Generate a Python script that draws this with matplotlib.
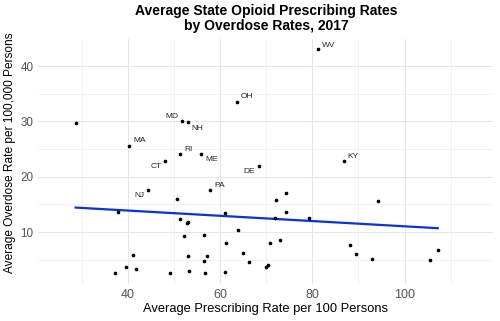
import numpy as np
import matplotlib
matplotlib.use("Agg")
import matplotlib.pyplot as plt
from matplotlib.ticker import MultipleLocator

plt.rcParams['font.family'] = ['Liberation Sans', 'DejaVu Sans']

# Labeled states
states = ["WV", "OH", "MD", "NH", "MA", "RI", "ME", "CT", "DE", "KY", "NJ", "PA"]
state_x = [81.3, 63.6, 51.8, 52.9, 40.2, 51.3, 55.8, 48.1, 68.3, 86.8, 44.3, 57.8]
state_y = [43.1, 33.6, 30.05, 29.9, 25.6, 24.2, 24.2, 22.8, 22.0, 22.9, 17.6, 17.6]

# Unlabeled states
other_x = [28.6, 50.6, 37.9, 61.0, 51.2, 52.7, 53.0, 63.9, 52.1, 56.4, 61.3,
           41.1, 53.0, 57.2, 56.4, 64.9, 66.2, 39.6, 41.6, 37.1, 49.1, 53.2,
           56.6, 61.1, 69.9, 70.4, 74.2, 72.0, 94.3, 74.3, 71.8, 79.3, 70.9,
           73.0, 88.1, 89.5, 92.9, 105.5, 107.2]
other_y = [29.8, 15.95, 13.7, 13.4, 12.3, 11.6, 11.9, 10.35, 9.26, 9.44, 8.0,
           5.9, 5.64, 5.6, 4.8, 6.3, 4.5, 3.65, 3.36, 2.57, 2.57, 3.0,
           2.57, 2.7, 3.6, 4.0, 17.0, 15.8, 15.65, 13.7, 12.6, 12.5, 8.0,
           8.5, 7.6, 6.0, 5.1, 5.0, 6.7]

x_ticks = [40, 60, 80, 100]
y_ticks = [10, 20, 30, 40]

# label offsets (pixels) and alignment
label_style = {
    "WV": (4, 4, "left"), "OH": (4, 5, "left"), "MD": (-4, 5, "right"),
    "NH": (4, -6, "left"), "MA": (4, 5.5, "left"), "RI": (4, 4, "left"),
    "ME": (4, -5.5, "left"), "CT": (-3.5, -5.5, "right"), "DE": (-4, -5.5, "right"),
    "KY": (4, 4.5, "left"), "NJ": (-4, -5, "right"), "PA": (4, 4.5, "left"),
}

W, H = 500, 321
fig = plt.figure(figsize=(5.0, 3.21), dpi=100)
ax = fig.add_axes([38.3 / W, (H - 283.5) / H, (493 - 38.3) / W, (283.5 - 38.5) / H])

all_x = np.array(state_x + other_x)
all_y = np.array(state_y + other_y)

ax.scatter(all_x, all_y, s=7, color="black", zorder=3, linewidths=0)

coef = np.polyfit(all_x, all_y, 1)
xs = np.array([all_x.min(), all_x.max()])
ax.plot(xs, np.polyval(coef, xs), color="#0a32d8", lw=1.6, zorder=2)

for s, x, y in zip(states, state_x, state_y):
    dx, dy, ha = label_style[s]
    ax.annotate(s, (x, y), xytext=(dx, dy), textcoords="offset pixels",
                ha=ha, va="center", fontsize=6, color="#222222")

ax.set_xlim(20.5, 119.2)
ax.set_ylim(0.7, 45.0)
ax.set_xticks(x_ticks)
ax.set_yticks(y_ticks)
ax.xaxis.set_minor_locator(MultipleLocator(10))
ax.yaxis.set_minor_locator(MultipleLocator(5))
ax.grid(which="major", color="#e6e6e6", lw=0.8)
ax.grid(which="minor", color="#f0f0f0", lw=0.6)
ax.set_axisbelow(True)
for sp in ax.spines.values():
    sp.set_visible(False)
ax.tick_params(which="both", length=0)
ax.tick_params(axis="x", labelsize=9, labelcolor="#555555", pad=4)
ax.tick_params(axis="y", labelsize=8.4, labelcolor="#555555", pad=3.5)

fig.text(265.8 / W, 1 - 309 / H, "Average Prescribing Rate per 100 Persons",
         ha="center", va="center", fontsize=9.3)
fig.text(10.5 / W, 1 - 152.5 / H, "Average Overdose Rate per 100,000 Persons",
         rotation=90, ha="center", va="center", fontsize=8.6)

fig.text(266 / W, 1 - 4 / H, "Average State Opioid Prescribing Rates\nby Overdose Rates, 2017",
         ha="center", va="top", fontsize=10, fontweight="bold",
         linespacing=1.08)

fig.savefig("out.png", dpi=100)
